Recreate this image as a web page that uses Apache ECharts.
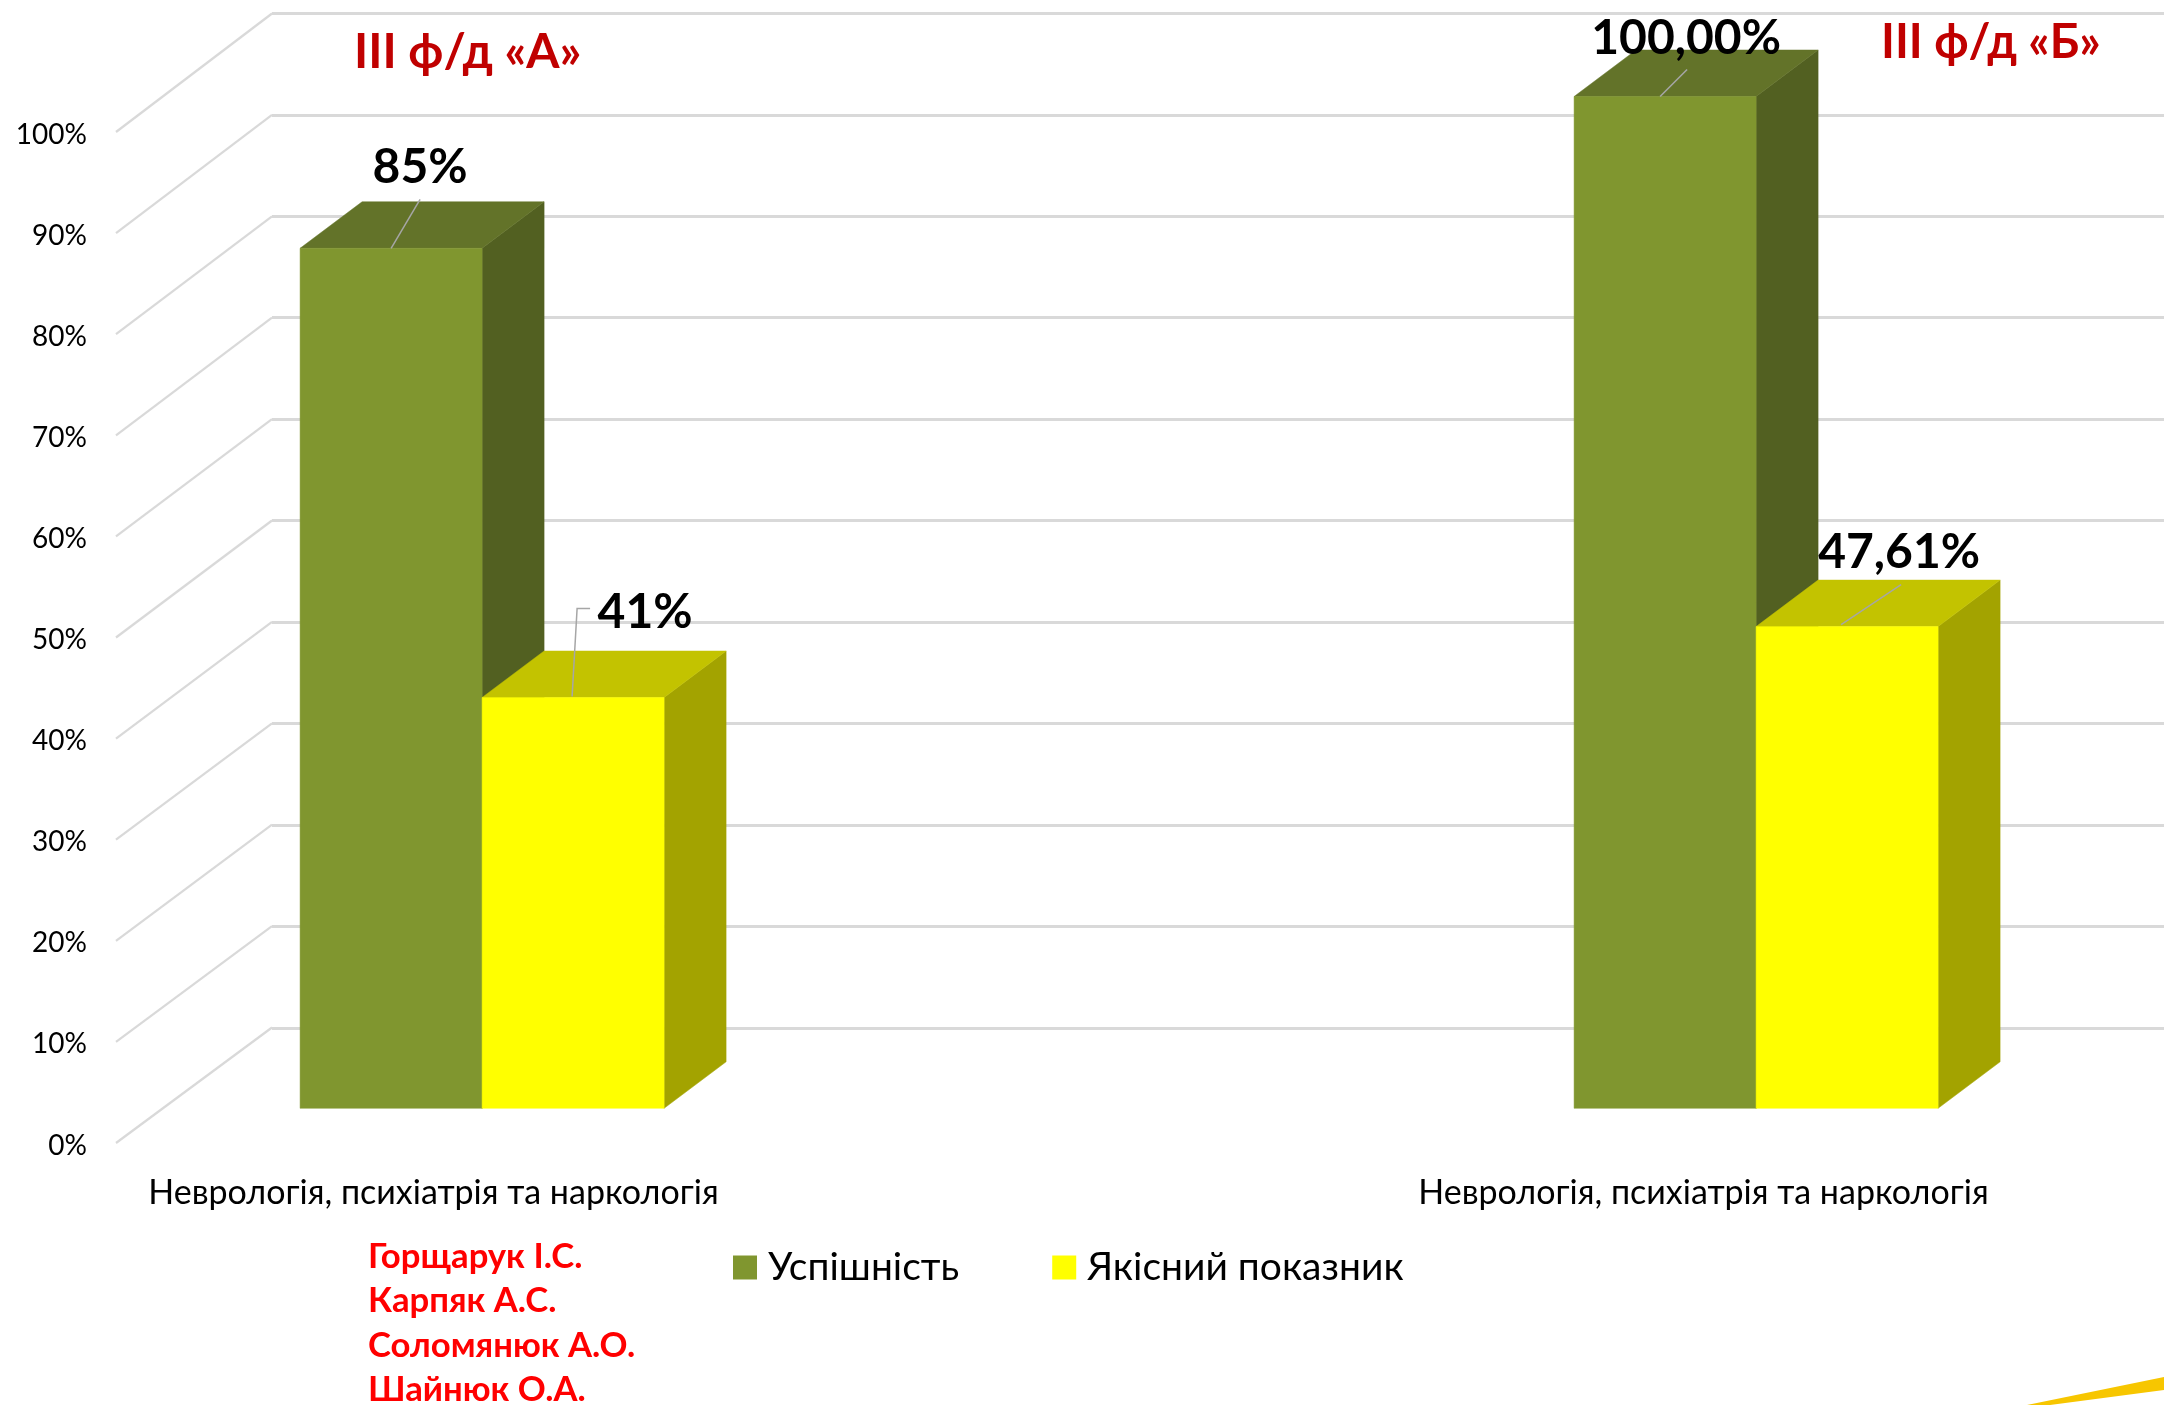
<!DOCTYPE html>
<html><head><meta charset="utf-8">
<style>html,body{margin:0;padding:0;background:#fff}#c{width:2164px;height:1405px}</style>
<script src="https://cdn.jsdelivr.net/npm/echarts@6/dist/echarts.min.js"></script>
</head><body><div id="c"></div>
<script>
// ---- data ----
const categories = ['Неврологія, психіатрія та наркологія', '', 'Неврологія, психіатрія та наркологія'];
const seriesNames = ['Успішність', 'Якісний показник'];
const uspishnist = [85, null, 100];
const yakisnyi = [40.6, null, 47.61];
const uspishnistLabels = ['85%', '', '100,00%'];
const yakisnyiLabels = ['41%', '', '47,61%'];
const yTicks = [0, 10, 20, 30, 40, 50, 60, 70, 80, 90, 100];
const groupTitles = ['III ф/д «А»', 'III ф/д «Б»'];
const authors = ['Горщарук І.С.', 'Карпяк А.С.', 'Соломянюк А.О.', 'Шайнюк О.А.'];

// ---- layout / style ----
const FONT = 'Lato, "Open Sans", "Noto Sans", sans-serif';
const BAR_W = 182, DEPTH_X = 62, DEPTH_Y = 46.5;
const GREEN = {front: '#80962F', top: '#637329', side: '#526021'};
const YELLOW = {front: '#FFFF00', top: '#C3C300', side: '#A3A300'};
// leader line and label placement, relative to the centre of each bar's top edge
const greenCallouts = {0: {line: [[0, 0], [29, -49]], text: [29, -81]}, 2: {line: [[-5, 0], [22, -27]], text: [21, -58]}};
const yellowCallouts = {0: {line: [[-1, -1], [4, -89], [17, -89]], text: [72, -85]}, 2: {line: [[-6, -2], [54, -42]], text: [52, -74]}};

function boxSeries(name, values, labels, colors, side, callouts) {
  return {
    type: 'custom', name: name, coordinateSystem: 'cartesian2d', xAxisIndex: 1, yAxisIndex: 1,
    itemStyle: {color: colors.front}, silent: true, clip: false, z: 5,
    encode: {x: 0, y: 1},
    data: values.map((v, i) => v === null ? null : [i, v, labels[i]]).filter(Boolean),
    renderItem: (params, api) => {
      const idx = api.value(0);
      const top = api.coord([idx, api.value(1)]);
      const base = api.coord([idx, 0]);
      const x0 = side < 0 ? top[0] - BAR_W : top[0];
      const x1 = x0 + BAR_W, yt = top[1], yb = base[1];
      const face = (pts, c) => ({type: 'polygon', shape: {points: pts}, style: {fill: c, stroke: c, lineWidth: 0.5}});
      const cx = (x0 + x1) / 2;
      const co = callouts[idx];
      return {type: 'group', children: [
        face([[x1, yt], [x1 + DEPTH_X, yt - DEPTH_Y], [x1 + DEPTH_X, yb - DEPTH_Y], [x1, yb]], colors.side),
        face([[x0, yt], [x0 + DEPTH_X, yt - DEPTH_Y], [x1 + DEPTH_X, yt - DEPTH_Y], [x1, yt]], colors.top),
        face([[x0, yt], [x1, yt], [x1, yb], [x0, yb]], colors.front),
        {type: 'polyline', shape: {points: co.line.map(p => [cx + p[0], yt + p[1]])}, style: {fill: 'none', stroke: '#A6A6A6', lineWidth: 1.5}},
        {type: 'text', x: cx + co.text[0], y: yt + co.text[1], style: {
          text: api.value(2), fill: '#000', font: 'bold 48px ' + FONT, align: 'center', verticalAlign: 'middle'}}
      ]};
    }
  };
}

const chart = echarts.init(document.getElementById('c'), null, {renderer: 'canvas'});
const noAxis = {show: false};
chart.setOption({
  animation: false,
  backgroundColor: '#fff',
  textStyle: {fontFamily: FONT},
  grid: [
    {left: 116, top: 132, width: 1905, height: 1011},     // front plane: axis labels
    {left: 163.6, top: 96.5, width: 1911, height: 1011.8},  // bar plane
    {left: 272, top: 13.3, right: 0, height: 1014.7}      // back wall: gridlines
  ],
  xAxis: [
    {gridIndex: 0, type: 'category', data: categories, axisLine: noAxis, axisTick: noAxis,
     axisLabel: {interval: 0, color: '#000', fontSize: 34, margin: 33, fontFamily: FONT}},
    {gridIndex: 1, type: 'category', data: categories, show: false},
    {gridIndex: 2, type: 'value', min: 0, max: 1, show: false}
  ],
  yAxis: [
    {gridIndex: 0, type: 'value', min: 0, max: 100, interval: 10, axisLine: noAxis, axisTick: noAxis, splitLine: noAxis,
     axisLabel: {formatter: '{t|{value}%}', margin: 29,
                 rich: {t: {color: '#000', fontSize: 28, fontFamily: FONT, padding: [5, 0, 0, 0]}}}},
    {gridIndex: 1, type: 'value', min: 0, max: 100, show: false, splitLine: noAxis},
    {gridIndex: 2, type: 'value', min: 0, max: 100, interval: 10, axisLine: noAxis, axisTick: noAxis, axisLabel: noAxis,
     splitLine: {show: true, lineStyle: {color: '#D9D9D9', width: 3}}}
  ],
  legend: {
    data: seriesNames, left: 728, top: 1243, itemWidth: 24, itemHeight: 24, itemGap: 93, icon: 'rect',
    textStyle: {color: '#000', fontSize: 39, padding: [0, 0, 0, 6], fontFamily: FONT}
  },
  series: [
    { // side-wall diagonals from the front axis to the back wall
      type: 'custom', coordinateSystem: 'cartesian2d', xAxisIndex: 0, yAxisIndex: 0, silent: true, clip: false, z: 1,
      encode: {x: 0, y: 1}, data: yTicks.map(v => [0, v]),
      renderItem: (params, api) => {
        const y = api.coord([0, api.value(1)])[1];
        const x = params.coordSys.x;
        return {type: 'line', shape: {x1: x, y1: y, x2: 272, y2: y - (115.5 + 0.03 * api.value(1))},
                style: {stroke: '#D9D9D9', lineWidth: 2.2}};
      }
    },
    boxSeries(seriesNames[0], uspishnist, uspishnistLabels, GREEN, -1, greenCallouts),
    boxSeries(seriesNames[1], yakisnyi, yakisnyiLabels, YELLOW, 1, yellowCallouts)
  ],
  graphic: [
    {type: 'text', left: 354, top: 29, style: {text: groupTitles[0], fill: '#C00000', font: 'bold 48px ' + FONT}},
    {type: 'text', left: 1881, top: 19, style: {text: groupTitles[1], fill: '#C00000', font: 'bold 47px ' + FONT}}
  ].concat(authors.map((t, i) => ({
    type: 'text', left: 368, top: 1239 + i * 44.6, style: {text: t, fill: '#FF0000', font: 'bold 34.7px ' + FONT}
  }))).concat([
    {type: 'polygon', silent: true, shape: {points: [[2027, 1405], [2164, 1377], [2164, 1390], [2050, 1405]]},
     style: {fill: '#F7C600'}}
  ])
});
</script></body></html>
